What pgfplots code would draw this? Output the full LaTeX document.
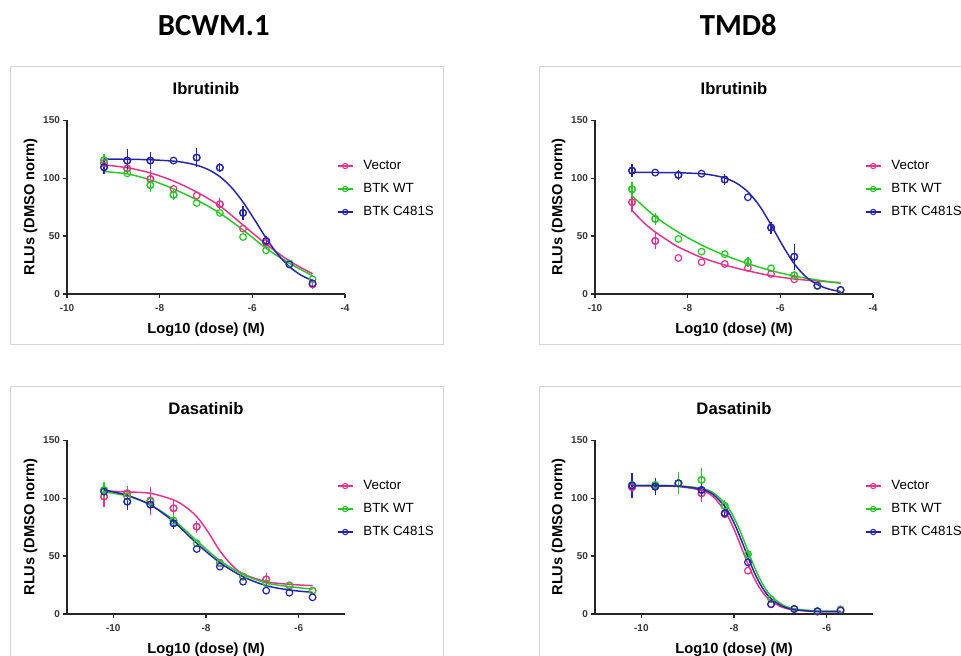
\documentclass[border=0pt]{standalone}
\usepackage{pgfplots}
\pgfplotsset{compat=1.18}
\usepackage{fontspec}
\setmainfont{Liberation Sans}
\newfontfamily\carlito{Carlito}
\definecolor{pk}{RGB}{234,50,137}
\definecolor{gr}{RGB}{40,200,40}
\definecolor{bl}{RGB}{35,35,175}
\definecolor{fr}{RGB}{212,212,212}
\definecolor{tk}{RGB}{55,55,55}
\pgfplotsset{
  drc/.style={
    scale only axis, width=208.5pt, height=130.3pt,
    anchor=south west,
    axis x line*=bottom, axis y line*=left,
    ymin=0, ymax=150, ytick={0,50,100,150}, yticklabels={0,50,100,150},
    axis line style={line width=1.1pt, color=black!85},
    tick style={line width=1pt, color=black!85},
    major tick length=3pt, tick align=outside,
    tick label style={font=\bfseries\fontsize{7.5}{9}\selectfont, text=tk},
    x tick label style={yshift=-1.2pt},
    y tick label style={xshift=1.2pt},
    xlabel={Log10 (dose) (M)}, ylabel={RLUs (DMSO norm)},
    label style={font=\bfseries\fontsize{11}{13}\selectfont},
    x label style={at={(axis description cs:0.5,-0.205)}, anchor=center},
    y label style={at={(axis description cs:-0.131,0.5)}, anchor=center},
    title style={at={(axis description cs:0.5,1.184)}, anchor=center, yshift=-6pt, font=\bfseries\fontsize{12.5}{15}\selectfont},
    legend style={draw=none, fill=none, at={(axis description cs:0.971,0.773)}, anchor=north west,
      inner sep=0pt, outer sep=0pt, row sep=7.75pt, column sep=7.5pt,
      font=\fontsize{10}{12}\selectfont, nodes={inner sep=0pt, text height=7.5pt, text depth=2pt}},
    legend cell align=left,
    legend image code/.code={\draw[mark repeat=2,mark phase=2,#1] plot coordinates {(0cm,0cm) (0.2cm,0cm) (0.4cm,0cm)};},
    clip=false,
  },
  drctop/.style={drc, xmin=-10, xmax=-4, xtick={-10,-8,-6,-4}, xticklabels={-10,-8,-6,-4}},
  drcbot/.style={drc, xmin=-11, xmax=-5, xtick={-10,-8,-6}, xticklabels={-10,-8,-6}},
  drcmk/.style={only marks, mark=o, mark size=2.5pt, mark options={line width=0.9pt, fill=none}},
}
\newcommand{\drcseries}[4]{%
  \addplot[#1, line width=1.1pt, smooth, no marks, forget plot] coordinates {#2};
  \addplot[#1, drcmk, forget plot] coordinates {#3};
  \addplot[#1, drcmk, forget plot, error bars/.cd, y dir=both, y explicit,
     error bar style={line width=0.9pt}, error mark options={line width=0.9pt, mark size=1.8pt}] coordinates {#4};
}
\newcommand{\drclegend}{%
  \addlegendimage{pk, line width=1pt, mark=o, mark size=2pt, mark options={line width=0.8pt}}
  \addlegendentry{Vector}
  \addlegendimage{gr, line width=1pt, mark=o, mark size=2pt, mark options={line width=0.8pt}}
  \addlegendentry{BTK WT}
  \addlegendimage{bl, line width=1pt, mark=o, mark size=2pt, mark options={line width=0.8pt}}
  \addlegendentry{BTK C481S}
}
\begin{document}
\begin{tikzpicture}
\useasboundingbox (0pt,0pt) rectangle (720.75pt,492pt);
\clip (0pt,0pt) rectangle (720.75pt,492pt);
% panel frames
\draw[fr, line width=0.75pt] (7.5pt,233.25pt) rectangle (332.25pt,441.75pt);
\draw[fr, line width=0.75pt] (404.25pt,233.25pt) rectangle (760pt,441.75pt);
\draw[fr, line width=0.75pt] (7.5pt,-20pt) rectangle (332.25pt,201.75pt);
\draw[fr, line width=0.75pt] (404.25pt,-20pt) rectangle (760pt,201.75pt);
% headings
\node[font=\carlito\bfseries\fontsize{23}{28}\selectfont] at (160.3pt,473pt) {BCWM.1};
\node[font=\carlito\bfseries\fontsize{23}{28}\selectfont] at (553.7pt,473.5pt) {TMD8};

% ---------- BCWM.1 Ibrutinib ----------
\begin{axis}[drctop, at={(50.25pt,271.5pt)}, title={Ibrutinib}]
\drclegend
\drcseries{pk}
 {(-9.2,111.5) (-8.7,109) (-8.2,104.5) (-7.7,97.5) (-7.2,88) (-6.7,76) (-6.2,59.5) (-5.7,43) (-5.2,28.5) (-4.7,17.5)}
 {(-9.2,113) (-8.7,108.3) (-8.2,99.3) (-7.7,90.7) (-7.2,85) (-6.7,77.5) (-6.2,56.4) (-5.7,44.3) (-5.2,26.2) (-4.7,8.4)}
 {(-9.2,113) +- (0,2.5) (-8.7,108.3) +- (0,2.5) (-8.2,99.3) +- (0,5.5) (-6.7,77.5) +- (0,3) (-5.7,44.3) +- (0,3) (-4.7,8.4) +- (0,2)}
\drcseries{gr}
 {(-9.2,105.7) (-8.7,103.7) (-8.2,98.5) (-7.7,90.7) (-7.2,81.2) (-6.7,69.7) (-6.2,55.3) (-5.7,39.4) (-5.2,26.5) (-4.7,15.8)}
 {(-9.2,115.5) (-8.7,104.2) (-8.2,93.9) (-7.7,85.5) (-7.2,78.6) (-6.7,70) (-6.2,49.2) (-5.7,37.7) (-5.2,26.2) (-4.7,12.7)}
 {(-9.2,115.5) +- (0,3) (-8.2,93.9) +- (0,3.5) (-7.7,85.5) +- (0,2)}
\drcseries{bl}
 {(-9.2,116.5) (-8.7,116.3) (-8.2,115.9) (-7.7,114.7) (-7.45,113.4) (-7.2,111.2) (-6.95,107.4) (-6.7,101.3) (-6.45,92) (-6.2,79.3) (-5.95,64) (-5.7,48.1) (-5.45,34.2) (-5.2,23.6) (-4.95,16.3) (-4.7,11.6)}
 {(-9.2,109.4) (-8.7,115.2) (-8.2,115.2) (-7.7,115.2) (-7.2,117.8) (-6.7,109.1) (-6.2,70) (-5.7,45.8) (-5.2,25.5) (-4.7,9.2)}
 {(-9.2,109.4) +- (0,4) (-8.7,115.2) +- (0,8) (-8.2,115.2) +- (0,5) (-7.2,117.8) +- (0,6) (-6.7,109.1) +- (0,2) (-6.2,70) +- (0,4) (-5.7,45.8) +- (0,2.5)}
\end{axis}

% ---------- TMD8 Ibrutinib ----------
\begin{axis}[drctop, at={(446.25pt,271.5pt)}, title={Ibrutinib}]
\drclegend
\drcseries{pk}
 {(-9.2,72) (-8.93,61) (-8.7,53.5) (-8.42,46) (-8.2,40.5) (-7.7,31.5) (-7.2,25) (-6.7,20) (-6.2,15.8) (-5.7,13) (-5.2,11.2) (-4.7,9.8)}
 {(-9.2,79.2) (-8.7,45.8) (-8.2,31.1) (-7.7,27.4) (-7.2,25.9) (-6.7,22.5) (-6.2,17.3) (-5.7,12.7) (-5.2,7.2) (-4.7,3.5)}
 {(-9.2,79.2) +- (0,6) (-8.7,45.8) +- (0,5)}
\drcseries{gr}
 {(-9.2,84.7) (-8.7,66.8) (-8.2,53.3) (-7.7,42.3) (-7.2,33.4) (-6.7,26.2) (-6.2,20.2) (-5.7,15.5) (-5.2,12.1) (-4.7,9.2)}
 {(-9.2,90.4) (-8.7,64.8) (-8.2,47.5) (-7.7,36.6) (-7.2,34.3) (-6.7,27.6) (-6.2,22.2) (-5.7,16.1) (-5.2,6.9) (-4.7,3.2)}
 {(-9.2,90.4) +- (0,4) (-8.7,64.8) +- (0,3) (-6.7,27.6) +- (0,2) (-5.7,16.1) +- (0,2)}
\drcseries{bl}
 {(-9.2,105) (-8.7,104.9) (-8.2,104.7) (-7.7,103.8) (-7.45,102.5) (-7.2,100.2) (-6.95,95.8) (-6.7,88.2) (-6.45,76.1) (-6.2,59.7) (-5.95,41.8) (-5.7,26.1) (-5.45,14.9) (-5.2,8.1) (-4.95,4.2) (-4.7,2.1)}
 {(-9.2,106.5) (-8.7,104.8) (-8.2,102.8) (-7.7,103.9) (-7.2,98.8) (-6.7,83.5) (-6.2,57.3) (-5.7,32.2) (-5.2,7.2) (-4.7,3.5)}
 {(-9.2,106.5) +- (0,3.5) (-8.2,102.8) +- (0,2.5) (-7.2,98.8) +- (0,2.5) (-6.2,57.3) +- (0,3) (-5.7,32.2) +- (0,9)}
\end{axis}

% ---------- BCWM.1 Dasatinib ----------
\begin{axis}[drcbot, at={(50.25pt,31.5pt)}, title={Dasatinib}]
\drclegend
\drcseries{pk}
 {(-10.2,106.2) (-9.7,105.4) (-9.2,104.2) (-8.7,98.5) (-8.45,92.7) (-8.2,84.1) (-7.95,70.5) (-7.7,54.5) (-7.45,42.5) (-7.2,34.6) (-6.7,27.9) (-6.2,25.6) (-5.7,24.5)}
 {(-10.2,101.4) (-9.7,104.2) (-9.2,97.9) (-8.7,91.3) (-8.2,75.4) (-7.7,44.3) (-7.2,32.2) (-6.7,29.9) (-6.2,24.8) (-5.7,19.9)}
 {(-10.2,101.4) +- (0,7) (-9.7,104.2) +- (0,4.5) (-9.2,97.9) +- (0,10) (-8.7,91.3) +- (0,5) (-8.2,75.4) +- (0,3) (-6.7,29.9) +- (0,3)}
\drcseries{gr}
 {(-10.2,105.4) (-9.7,101.9) (-9.2,94.2) (-8.7,81.2) (-8.2,63.3) (-7.7,46.1) (-7.2,34.2) (-6.7,26.8) (-6.2,23.6) (-5.7,21.5)}
 {(-10.2,107.1) (-9.7,101.4) (-9.2,97) (-8.7,80.6) (-8.2,61) (-7.7,43.8) (-7.2,32.2) (-6.7,26.5) (-6.2,24.2) (-5.7,20.2)}
 {(-10.2,107.1) +- (0,5) (-9.7,101.4) +- (0,6) (-8.7,80.6) +- (0,4)}
\drcseries{bl}
 {(-10.2,107.1) (-9.7,102.5) (-9.2,94.2) (-8.7,79.8) (-8.2,61) (-7.7,44.3) (-7.2,32.2) (-6.7,24.5) (-6.2,20.7) (-5.7,18.7)}
 {(-10.2,105.7) (-9.7,97) (-9.2,94.5) (-8.7,78.3) (-8.2,56.1) (-7.7,40.9) (-7.2,27.9) (-6.7,20.2) (-6.2,18.4) (-5.7,14.4)}
 {(-9.7,97) +- (0,5) (-9.2,94.5) +- (0,3) (-8.7,78.3) +- (0,3)}
\end{axis}

% ---------- TMD8 Dasatinib ----------
\begin{axis}[drcbot, at={(446.25pt,31.5pt)}, title={Dasatinib}]
\drclegend
\drcseries{pk}
 {(-10.2,110.6) (-9.7,110.5) (-9.2,110.0) (-8.7,106.8) (-8.45,101.2) (-8.2,89.2) (-8.075,79.9) (-7.95,68.5) (-7.825,55.8) (-7.7,43.2) (-7.575,31.9) (-7.45,22.7) (-7.325,15.9) (-7.2,11.1) (-6.95,5.7) (-6.7,3.5) (-6.2,2.2) (-5.7,2.0)}
 {(-10.2,109.4) (-9.7,110) (-9.2,112.9) (-8.7,104.2) (-8.2,86.1) (-7.7,37.4) (-7.2,8.6) (-6.7,4.3) (-6.2,2) (-5.7,4)}
 {(-10.2,109.4) +- (0,4) (-9.7,110) +- (0,4) (-9.2,112.9) +- (0,3) (-8.7,104.2) +- (0,5)}
\drcseries{gr}
 {(-10.2,111.1) (-9.7,111.0) (-9.2,110.7) (-8.7,108.5) (-8.45,104.7) (-8.2,96) (-8.075,88.7) (-7.95,79.1) (-7.825,67.4) (-7.7,54.6) (-7.575,42.1) (-7.45,31) (-7.325,22.1) (-7.2,15.6) (-6.95,7.9) (-6.7,4.5) (-6.2,2.6) (-5.7,2.4)}
 {(-10.2,111.4) (-9.7,111.4) (-9.2,112.9) (-8.7,115.8) (-8.2,93.3) (-7.7,51.5) (-7.2,12.7) (-6.7,4.3) (-6.2,2.6) (-5.7,3.5)}
 {(-10.2,111.4) +- (0,5) (-9.7,111.4) +- (0,3) (-9.2,112.9) +- (0,7.5) (-8.7,115.8) +- (0,8) (-8.2,93.3) +- (0,3) (-7.7,51.5) +- (0,2)}
\drcseries{bl}
 {(-10.2,110.8) (-9.7,110.7) (-9.2,110.3) (-8.7,107.7) (-8.45,103.2) (-8.2,93) (-8.075,84.8) (-7.95,74.3) (-7.825,62.1) (-7.7,49.2) (-7.575,37.1) (-7.45,26.9) (-7.325,18.9) (-7.2,13.2) (-6.95,6.6) (-6.7,3.8) (-6.2,2.1) (-5.7,2.0)}
 {(-10.2,110.9) (-9.7,110) (-9.2,112.9) (-8.7,107.1) (-8.2,87) (-7.7,44.6) (-7.2,8.4) (-6.7,4.3) (-6.2,2.3) (-5.7,2.9)}
 {(-10.2,110.9) +- (0,8.5) (-9.7,110) +- (0,5.5) (-8.7,107.1) +- (0,5) (-8.2,87) +- (0,2)}
\end{axis}
\end{tikzpicture}
\end{document}
